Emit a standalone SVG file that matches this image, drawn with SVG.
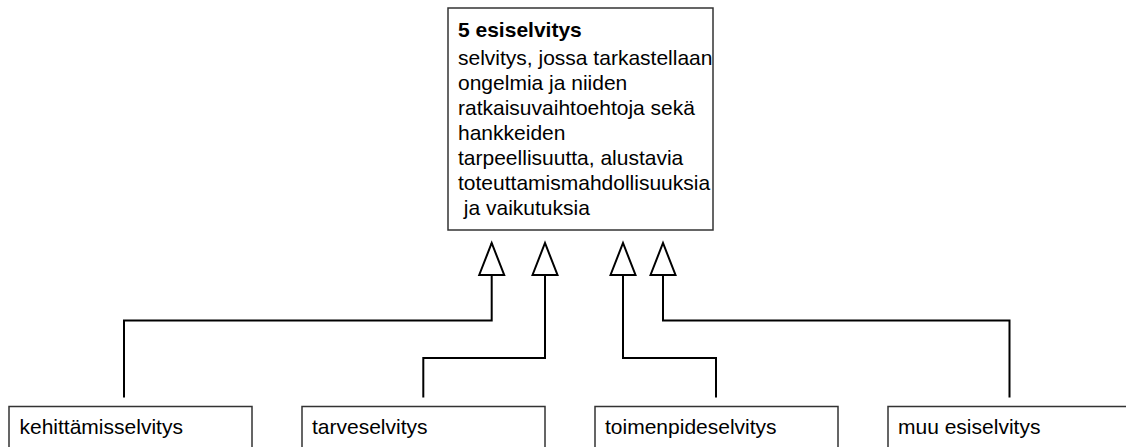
<svg xmlns="http://www.w3.org/2000/svg" width="1126" height="447" viewBox="0 0 1126 447">
  <style>
    .box { fill: #ffffff; stroke: #333333; stroke-width: 1.5; }
    .txt { font-family: "Liberation Sans", Arial, Helvetica, sans-serif; font-size: 21px; fill: #000000; }
    .bold { font-weight: bold; }
    .conn { fill: none; stroke: #000000; stroke-width: 2; }
  </style>
  <defs>
    <marker id="hollow" markerUnits="userSpaceOnUse" markerWidth="32" markerHeight="25" viewBox="0 0 32 25" refX="32" refY="12.5" orient="auto" overflow="visible">
      <path d="M0,0 L32,12.5 L0,25 Z" fill="#ffffff" stroke="#000000" stroke-width="2" stroke-linejoin="miter"/>
    </marker>
  </defs>
  <rect width="1126" height="447" fill="#ffffff"/>

  <g id="connectors">
    <path class="conn" d="M124,397.5 V320.5 H491.7 V243" marker-end="url(#hollow)"/>
    <path class="conn" d="M423.3,397.5 V358 H545 V243" marker-end="url(#hollow)"/>
    <path class="conn" d="M716,397.5 V358 H623 V243" marker-end="url(#hollow)"/>
    <path class="conn" d="M1009.5,397.5 V320.5 H663 V243" marker-end="url(#hollow)"/>
  </g>

  <g id="esiselvitys">
    <rect class="box" x="448" y="8" width="265" height="222"/>
    <text class="txt bold" x="458" y="37">5 esiselvitys</text>
    <text class="txt" x="458" y="64.5">selvitys, jossa tarkastellaan</text>
    <text class="txt" x="458" y="89.5">ongelmia ja niiden</text>
    <text class="txt" x="458" y="114.5">ratkaisuvaihtoehtoja sekä</text>
    <text class="txt" x="458" y="139.5">hankkeiden</text>
    <text class="txt" x="458" y="164.5">tarpeellisuutta, alustavia</text>
    <text class="txt" x="458" y="189.5">toteuttamismahdollisuuksia</text>
    <text class="txt" x="458" y="214.5" xml:space="preserve" style="white-space:pre"> ja vaikutuksia</text>
  </g>

  <g id="kehittamisselvitys">
    <rect class="box" x="9" y="406.5" width="243" height="60"/>
    <text class="txt" x="19.5" y="434">kehittämisselvitys</text>
  </g>
  <g id="tarveselvitys">
    <rect class="box" x="302" y="406.5" width="243" height="60"/>
    <text class="txt" x="312" y="434">tarveselvitys</text>
  </g>
  <g id="toimenpideselvitys">
    <rect class="box" x="595" y="406.5" width="243" height="60"/>
    <text class="txt" x="605" y="434">toimenpideselvitys</text>
  </g>
  <g id="muu-esiselvitys">
    <rect class="box" x="888" y="406.5" width="243" height="60"/>
    <text class="txt" x="898" y="434">muu esiselvitys</text>
  </g>
</svg>
